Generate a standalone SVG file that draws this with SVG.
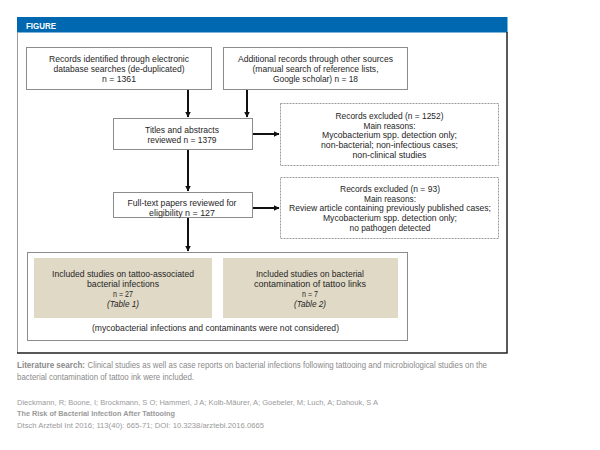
<svg xmlns="http://www.w3.org/2000/svg" width="600" height="450" viewBox="0 0 600 450">
<defs>
<style>
.t{font-family:"Liberation Sans",Arial,sans-serif;font-size:9.3px;fill:#262626;text-anchor:middle;}
.box{fill:#fff;stroke:#8c8c8c;stroke-width:1;}
.dbox{fill:#fff;stroke:#9a9a9a;stroke-width:1;stroke-dasharray:2 1;}
.tan{fill:#e0d9c5;stroke:none;}
.con{stroke:#111;stroke-width:2;fill:none;marker-end:url(#ah);}
.cap{font-family:"Liberation Sans",Arial,sans-serif;font-size:9px;fill:#8a8a8a;}
.cit{font-family:"Liberation Sans",Arial,sans-serif;font-size:8px;fill:#9a9a9a;}
</style>
<marker id="ah" viewBox="0 0 6 6" refX="5.5" refY="3" markerWidth="3" markerHeight="3" orient="auto" markerUnits="strokeWidth">
<path d="M0,0 L6,3 L0,6 Z" fill="#111"/>
</marker>
</defs>
<rect width="600" height="450" fill="#fff"/>

<g id="frame">
<rect x="17" y="17" width="490.5" height="15.5" fill="#0068b0"/>
<text x="26" y="28.5" font-family="Liberation Sans,Arial,sans-serif" font-size="9.5" font-weight="bold" fill="#fff" textLength="30" lengthAdjust="spacingAndGlyphs">FIGURE</text>
<path d="M17.5,32 V353" stroke="#999" stroke-width="1" fill="none"/>
<path d="M17,353 H507 V32" stroke="#222" stroke-width="1.5" fill="none"/>
</g>

<g id="connectors">
<path class="con" d="M188,90 V117"/>
<path class="con" d="M247,90 V117"/>
<path class="con" d="M253,134 H279"/>
<path class="con" d="M188,150 V191"/>
<path class="con" d="M253,208 H279"/>
<path class="con" d="M188,218 V251"/>
</g>

<g id="n1">
<rect class="box" x="26.5" y="47.5" width="185" height="42"/>
<text class="t" x="119" y="62" textLength="140" lengthAdjust="spacingAndGlyphs">Records identified through electronic</text>
<text class="t" x="119" y="72" textLength="131" lengthAdjust="spacingAndGlyphs">database searches (de-duplicated)</text>
<text class="t" x="119" y="82" textLength="34" lengthAdjust="spacingAndGlyphs">n = 1361</text>
</g>

<g id="n2">
<rect class="box" x="223.5" y="47.5" width="184" height="42"/>
<text class="t" x="315.5" y="62" textLength="155" lengthAdjust="spacingAndGlyphs">Additional records through other sources</text>
<text class="t" x="315.5" y="72" textLength="126" lengthAdjust="spacingAndGlyphs">(manual search of reference lists,</text>
<text class="t" x="315.5" y="82" textLength="85" lengthAdjust="spacingAndGlyphs">Google scholar) n = 18</text>
</g>

<g id="n3">
<rect class="box" x="113.5" y="118.5" width="139" height="31"/>
<text class="t" x="182" y="133" textLength="74" lengthAdjust="spacingAndGlyphs">Titles and abstracts</text>
<text class="t" x="182" y="143" textLength="69" lengthAdjust="spacingAndGlyphs">reviewed n = 1379</text>
</g>

<g id="x1">
<rect class="dbox" x="280.5" y="103.5" width="218" height="62"/>
<text class="t" x="389.5" y="119" textLength="108" lengthAdjust="spacingAndGlyphs">Records excluded (n = 1252)</text>
<text class="t" x="389.5" y="128.7" textLength="52" lengthAdjust="spacingAndGlyphs">Main reasons:</text>
<text class="t" x="389.5" y="138.4" textLength="135" lengthAdjust="spacingAndGlyphs">Mycobacterium spp. detection only;</text>
<text class="t" x="389.5" y="148" textLength="137" lengthAdjust="spacingAndGlyphs">non-bacterial; non-infectious cases;</text>
<text class="t" x="389.5" y="157.7" textLength="74" lengthAdjust="spacingAndGlyphs">non-clinical studies</text>
</g>

<g id="n4">
<rect class="box" x="113.5" y="192.5" width="139" height="25"/>
<text class="t" x="182" y="206" textLength="109" lengthAdjust="spacingAndGlyphs">Full-text papers reviewed for</text>
<text class="t" x="182" y="216" textLength="66" lengthAdjust="spacingAndGlyphs">eligibility n = 127</text>
</g>

<g id="x2">
<rect class="dbox" x="280.5" y="177.5" width="218" height="61"/>
<text class="t" x="390" y="192" textLength="100" lengthAdjust="spacingAndGlyphs">Records excluded (n = 93)</text>
<text class="t" x="390" y="201.6" textLength="52" lengthAdjust="spacingAndGlyphs">Main reasons:</text>
<text class="t" x="390" y="211.3" textLength="202" lengthAdjust="spacingAndGlyphs">Review article containing previously published cases;</text>
<text class="t" x="390" y="221" textLength="134" lengthAdjust="spacingAndGlyphs">Mycobacterium spp. detection only;</text>
<text class="t" x="390" y="230.7" textLength="81" lengthAdjust="spacingAndGlyphs">no pathogen detected</text>
</g>

<g id="n5">
<rect class="box" x="27.5" y="252.5" width="380" height="88"/>
<text class="t" x="215.5" y="331" textLength="247" lengthAdjust="spacingAndGlyphs">(mycobacterial infections and contaminants were not considered)</text>
</g>

<g id="n5a">
<rect class="tan" x="34" y="258" width="178" height="60"/>
<text class="t" x="123" y="277" textLength="142" lengthAdjust="spacingAndGlyphs">Included studies on tattoo-associated</text>
<text class="t" x="123" y="287" textLength="72" lengthAdjust="spacingAndGlyphs">bacterial infections</text>
<text class="t" x="123" y="297" textLength="20" lengthAdjust="spacingAndGlyphs">n = 27</text>
<text class="t" x="123" y="307" font-style="italic" textLength="32" lengthAdjust="spacingAndGlyphs">(Table 1)</text>
</g>

<g id="n5b">
<rect class="tan" x="223" y="258" width="175" height="60"/>
<text class="t" x="310" y="277" textLength="108" lengthAdjust="spacingAndGlyphs">Included studies on bacterial</text>
<text class="t" x="310" y="287" textLength="112" lengthAdjust="spacingAndGlyphs">contamination of tattoo links</text>
<text class="t" x="310" y="297" textLength="16" lengthAdjust="spacingAndGlyphs">n = 7</text>
<text class="t" x="310" y="307" font-style="italic" textLength="32" lengthAdjust="spacingAndGlyphs">(Table 2)</text>
</g>

<g id="caption">
<text class="cap" x="17" y="368" font-weight="bold" fill="#7a7a7a" textLength="68" lengthAdjust="spacingAndGlyphs">Literature search:</text>
<text class="cap" x="87.5" y="368" textLength="399.5" lengthAdjust="spacingAndGlyphs">Clinical studies as well as case reports on bacterial infections following tattooing and microbiological studies on the</text>
<text class="cap" x="17" y="380" textLength="177" lengthAdjust="spacingAndGlyphs">bacterial contamination of tattoo ink were included.</text>
<text class="cit" x="17" y="405" textLength="361" lengthAdjust="spacingAndGlyphs">Dieckmann, R; Boone, I; Brockmann, S O; Hammerl, J A; Kolb-Mäurer, A; Goebeler, M; Luch, A; Dahouk, S A</text>
<text class="cit" x="17" y="416" font-weight="bold" fill="#6a6a6a" textLength="158" lengthAdjust="spacingAndGlyphs">The Risk of Bacterial Infection After Tattooing</text>
<text class="cit" x="17" y="428" textLength="247" lengthAdjust="spacingAndGlyphs">Dtsch Arztebl Int 2016; 113(40): 665-71; DOI: 10.3238/arztebl.2016.0665</text>
</g>
</svg>
